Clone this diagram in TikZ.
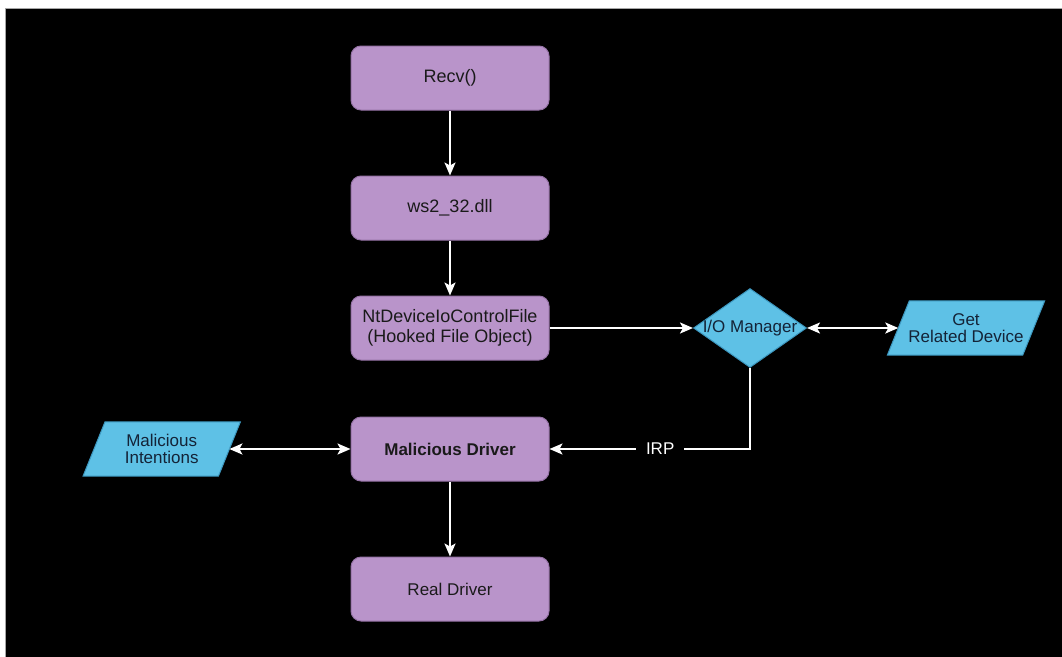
\documentclass[tikz,border=0pt]{standalone}
\usepackage{fontspec}
\setmainfont{Liberation Sans}
\usetikzlibrary{arrows.meta,shapes.geometric,backgrounds}
\pgfdeclarelayer{bgl}
\pgfsetlayers{bgl,background,main}
\definecolor{boxpurple}{RGB}{185,148,202}
\definecolor{boxpurpleline}{RGB}{150,115,166}
\definecolor{boxblue}{RGB}{94,193,230}
\definecolor{boxblueline}{RGB}{60,150,190}
\definecolor{txt}{RGB}{26,26,26}
\definecolor{bluetxt}{RGB}{20,35,55}
\begin{document}
\begin{tikzpicture}[x=1pt,y=-1pt,
  pbox/.style={draw=boxpurpleline, line width=1pt, fill=boxpurple, rounded corners=10pt,
    minimum width=198pt, minimum height=64pt, inner sep=0pt, text=txt, align=center,
    font=\fontsize{18}{20}\selectfont},
  smallfont/.style={font=\fontsize{17}{17}\selectfont},
  paratext/.style={inner sep=0pt, text=bluetxt, align=center, font=\fontsize{17}{16.5}\selectfont},
  parashape/.style={draw=boxblueline, line width=1pt, fill=boxblue},
  wire/.style={draw=white, line width=2pt, -{Stealth[length=13pt,width=11pt,inset=3pt]}},
  wiretwo/.style={draw=white, line width=2pt, {Stealth[length=13pt,width=11pt,inset=3pt]}-{Stealth[length=13pt,width=11pt,inset=3pt]}},
  irplabel/.style={fill=black, text=white, inner xsep=10pt, inner ysep=3pt, font=\fontsize{17}{17}\selectfont}
]
\useasboundingbox (0,0) rectangle (1062,656);
\begin{pgfonlayer}{bgl}
  \fill[white] (0,0) rectangle (1062,656);
  \filldraw[fill=black, draw=gray!70, line width=1pt] (5.5,8.5) rectangle (1064,658);
\end{pgfonlayer}

\node[pbox] (recv) at (450,78) {Recv()};
\node[pbox] (ws2) at (450,208) {ws2\_32.dll};
\node[pbox] (nt) at (450,328) {NtDeviceIoControlFile\\(Hooked File Object)};
\node[pbox, font=\bfseries\fontsize{17}{17}\selectfont] (md) at (450,449) {Malicious Driver};
\node[pbox, smallfont] (rd) at (450,589) {Real Driver};

\node[diamond, draw=boxblueline, line width=1pt, fill=boxblue, minimum width=113pt,
  minimum height=79pt, inner sep=0pt] (io) at (750,328) {};
\node[text=bluetxt, inner sep=0pt, smallfont] (iotext) at (io.center) {I/O Manager};

\node[paratext, minimum width=135pt, minimum height=54pt] (grd) at (966,328) {Get\\Related Device};
\node[paratext, minimum width=135pt, minimum height=54pt] (mi) at (161.7,449) {Malicious\\Intentions};

\begin{pgfonlayer}{background}
  \filldraw[parashape] ([xshift=11pt]grd.north west) -- ([xshift=11pt]grd.north east)
    -- ([xshift=-11pt]grd.south east) -- ([xshift=-11pt]grd.south west) -- cycle;
  \filldraw[parashape] ([xshift=11pt]mi.north west) -- ([xshift=11pt]mi.north east)
    -- ([xshift=-11pt]mi.south east) -- ([xshift=-11pt]mi.south west) -- cycle;
\end{pgfonlayer}

\draw[wire] (recv) -- (ws2);
\draw[wire] (ws2) -- (nt);
\draw[wire] (nt.east) -- (io.west);
\draw[wiretwo] (io.east) -- (grd.west);
\draw[wire] (io.south) |- node[irplabel, pos=0.724] (irp) {IRP} (md.east);
\draw[wiretwo] (mi.east) -- (md.west);
\draw[wire] (md) -- (rd);
\end{tikzpicture}
\end{document}
